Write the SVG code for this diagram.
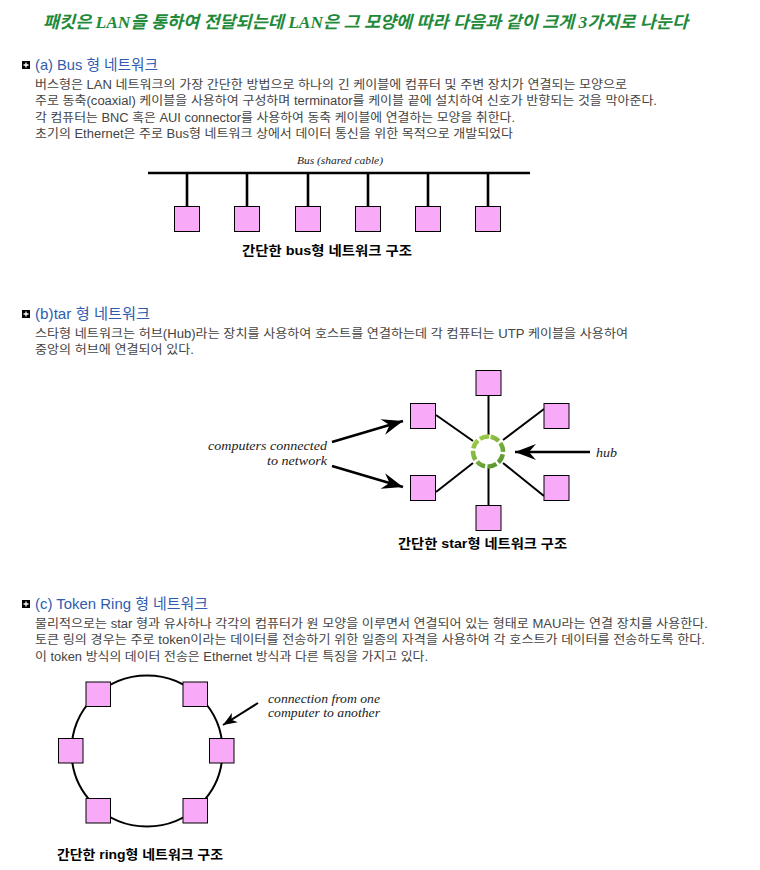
<svg xmlns="http://www.w3.org/2000/svg" width="760" height="870" viewBox="0 0 760 870">
<style>
.title{font-family:"Liberation Serif","Noto Sans CJK KR",serif;font-size:17px;font-style:italic;font-weight:bold;fill:#1f8a3a}
.hdr{font-family:"Liberation Sans","Noto Sans CJK KR",sans-serif;font-size:15px;fill:#2f5cb0}
.body{font-family:"Liberation Sans","Noto Sans CJK KR",sans-serif;font-size:12px;fill:#444}
.cap{font-family:"Liberation Sans","Noto Sans CJK KR",sans-serif;font-size:13px;font-weight:bold;fill:#000}
.lbl{font-family:"Liberation Serif",serif;font-style:italic;fill:#222}
.box{fill:#f8aaf8;stroke:#000;stroke-width:1}
.wire{stroke:#000;stroke-width:2;fill:none}
.bus{stroke:#000;stroke-width:2.6;fill:none}
.arr{stroke:#000;stroke-width:2.5;fill:none}
</style>
<defs>
<g id="bullet"><rect x="0" y="0" width="8" height="8" fill="#000"/><path d="M4 1.5V6.5M1.5 4H6.5" stroke="#fff" stroke-width="1.3"/></g>
<marker id="ahBig" viewBox="-22 -9 24 18" markerUnits="userSpaceOnUse" markerWidth="24" markerHeight="18" refX="0" refY="0" orient="auto">
<path d="M0 0L-21 -8L-14 0L-21 8Z" fill="#000"/>
</marker>
<marker id="ahSmall" viewBox="-15 -7 16 14" markerUnits="userSpaceOnUse" markerWidth="16" markerHeight="14" refX="0" refY="0" orient="auto">
<path d="M0 0L-14 -5.5L-10 0L-14 5.5Z" fill="#000"/>
</marker>
<linearGradient id="hubg" x1="1" y1="0" x2="0" y2="1">
<stop offset="0" stop-color="#a6d24c"/>
<stop offset="1" stop-color="#4f8f2c"/>
</linearGradient>
</defs>

<text class="title" x="43" y="28" textLength="645" lengthAdjust="spacingAndGlyphs">패킷은 LAN을 통하여 전달되는데 LAN은 그 모양에 따라 다음과 같이 크게 3가지로 나눈다</text>

<!-- Section a -->
<use href="#bullet" x="22" y="61"/>
<text class="hdr" x="35" y="69.5" textLength="123" lengthAdjust="spacingAndGlyphs">(a) Bus 형 네트워크</text>
<text class="body" x="35" y="88.5" textLength="592" lengthAdjust="spacingAndGlyphs">버스형은 LAN 네트워크의 가장 간단한 방법으로 하나의 긴 케이블에 컴퓨터 및 주변 장치가 연결되는 모양으로</text>
<text class="body" x="35" y="105" textLength="622" lengthAdjust="spacingAndGlyphs">주로 동축(coaxial) 케이블을 사용하여 구성하며 terminator를 케이블 끝에 설치하여 신호가 반향되는 것을 막아준다.</text>
<text class="body" x="35" y="121.7" textLength="480" lengthAdjust="spacingAndGlyphs">각 컴퓨터는 BNC 혹은 AUI connector를 사용하여 동축 케이블에 연결하는 모양을 취한다.</text>
<text class="body" x="35" y="138.4" textLength="478" lengthAdjust="spacingAndGlyphs">초기의 Ethernet은 주로 Bus형 네트워크 상에서 데이터 통신을 위한 목적으로 개발되었다</text>

<text class="lbl" x="297" y="164" font-size="10.5" textLength="86" lengthAdjust="spacingAndGlyphs">Bus (shared cable)</text>

<g id="connectors">
<line class="bus" x1="148" y1="173" x2="530" y2="173"/>
<line class="bus" x1="187" y1="173" x2="187" y2="206"/>
<line class="bus" x1="247" y1="173" x2="247" y2="206"/>
<line class="bus" x1="308" y1="173" x2="308" y2="206"/>
<line class="bus" x1="368" y1="173" x2="368" y2="206"/>
<line class="bus" x1="428" y1="173" x2="428" y2="206"/>
<line class="bus" x1="488" y1="173" x2="488" y2="206"/>

<line class="wire" x1="488.5" y1="395" x2="488.5" y2="435"/>
<line class="wire" x1="488.5" y1="468" x2="488.5" y2="505"/>
<line class="wire" x1="436" y1="415" x2="473" y2="441"/>
<line class="wire" x1="544" y1="409" x2="503" y2="440"/>
<line class="wire" x1="436" y1="492" x2="473" y2="463"/>
<line class="wire" x1="503" y1="463" x2="544" y2="496"/>

<line class="arr" x1="332" y1="442" x2="403" y2="421" marker-end="url(#ahBig)"/>
<line class="arr" x1="332" y1="466" x2="403" y2="487" marker-end="url(#ahBig)"/>
<line class="arr" x1="590" y1="452" x2="515" y2="452" marker-end="url(#ahBig)"/>

<circle cx="147" cy="751" r="75.5" fill="none" stroke="#000" stroke-width="2"/>
<line x1="258" y1="703" x2="223" y2="725" stroke="#000" stroke-width="2" marker-end="url(#ahSmall)"/>
</g>

<g id="bus-node-1"><rect class="box" x="174.5" y="206.5" width="25" height="25"/></g>
<g id="bus-node-2"><rect class="box" x="234.5" y="206.5" width="25" height="25"/></g>
<g id="bus-node-3"><rect class="box" x="295.5" y="206.5" width="25" height="25"/></g>
<g id="bus-node-4"><rect class="box" x="355.5" y="206.5" width="25" height="25"/></g>
<g id="bus-node-5"><rect class="box" x="415.5" y="206.5" width="25" height="25"/></g>
<g id="bus-node-6"><rect class="box" x="475.5" y="206.5" width="25" height="25"/></g>

<text class="cap" x="242" y="255" textLength="170" lengthAdjust="spacingAndGlyphs">간단한 bus형 네트워크 구조</text>

<!-- Section b -->
<use href="#bullet" x="22" y="310"/>
<text class="hdr" x="35" y="318.5" textLength="115" lengthAdjust="spacingAndGlyphs">(b)tar 형 네트워크</text>
<text class="body" x="35" y="337.5" textLength="593" lengthAdjust="spacingAndGlyphs">스타형 네트워크는 허브(Hub)라는 장치를 사용하여 호스트를 연결하는데 각 컴퓨터는 UTP 케이블을 사용하여</text>
<text class="body" x="35" y="354.2" textLength="159" lengthAdjust="spacingAndGlyphs">중앙의 허브에 연결되어 있다.</text>

<g id="star-node-top"><rect class="box" x="476" y="370.5" width="25" height="25"/></g>
<g id="star-node-ul"><rect class="box" x="410.5" y="403.5" width="25" height="25"/></g>
<g id="star-node-ur"><rect class="box" x="544" y="403.5" width="25" height="25"/></g>
<g id="star-node-ll"><rect class="box" x="410.5" y="475.5" width="25" height="25"/></g>
<g id="star-node-lr"><rect class="box" x="544" y="475.5" width="25" height="25"/></g>
<g id="star-node-bottom"><rect class="box" x="476" y="505.5" width="25" height="25"/></g>
<g id="hub"><circle cx="488" cy="451.5" r="15" fill="#fff" stroke="url(#hubg)" stroke-width="4.5" stroke-dasharray="9.3 2.5" transform="rotate(-80 488 451.5)"/></g>

<text class="lbl" x="208" y="450" font-size="13.5" textLength="119" lengthAdjust="spacingAndGlyphs">computers connected</text>
<text class="lbl" x="267" y="465" font-size="13.5" textLength="60" lengthAdjust="spacingAndGlyphs">to network</text>
<text class="lbl" x="596" y="457" font-size="13.5" textLength="21" lengthAdjust="spacingAndGlyphs">hub</text>

<text class="cap" x="398" y="548" textLength="169" lengthAdjust="spacingAndGlyphs">간단한 star형 네트워크 구조</text>

<!-- Section c -->
<use href="#bullet" x="22" y="600"/>
<text class="hdr" x="35" y="608.5" textLength="173" lengthAdjust="spacingAndGlyphs">(c) Token Ring 형 네트워크</text>
<text class="body" x="35" y="627.5" textLength="673" lengthAdjust="spacingAndGlyphs">물리적으로는 star 형과 유사하나 각각의 컴퓨터가 원 모양을 이루면서 연결되어 있는 형태로 MAU라는 연결 장치를 사용한다.</text>
<text class="body" x="35" y="644.2" textLength="670" lengthAdjust="spacingAndGlyphs">토큰 링의 경우는 주로 token이라는 데이터를 전송하기 위한 일종의 자격을 사용하여 각 호스트가 데이터를 전송하도록 한다.</text>
<text class="body" x="35" y="660.9" textLength="393" lengthAdjust="spacingAndGlyphs">이 token 방식의 데이터 전송은 Ethernet 방식과 다른 특징을 가지고 있다.</text>

<g id="ring-node-tl"><rect class="box" x="86" y="682" width="24.5" height="24.5"/></g>
<g id="ring-node-tr"><rect class="box" x="183" y="682" width="24.5" height="24.5"/></g>
<g id="ring-node-l"><rect class="box" x="58.5" y="738.5" width="24.5" height="24.5"/></g>
<g id="ring-node-r"><rect class="box" x="209.5" y="738.5" width="24.5" height="24.5"/></g>
<g id="ring-node-bl"><rect class="box" x="86" y="798.5" width="24.5" height="24.5"/></g>
<g id="ring-node-br"><rect class="box" x="183" y="798.5" width="24.5" height="24.5"/></g>

<text class="lbl" x="268" y="703" font-size="13" textLength="112" lengthAdjust="spacingAndGlyphs">connection from one</text>
<text class="lbl" x="268" y="717" font-size="13" textLength="112" lengthAdjust="spacingAndGlyphs">computer to another</text>

<text class="cap" x="57" y="859" textLength="166" lengthAdjust="spacingAndGlyphs">간단한 ring형 네트워크 구조</text>
</svg>
